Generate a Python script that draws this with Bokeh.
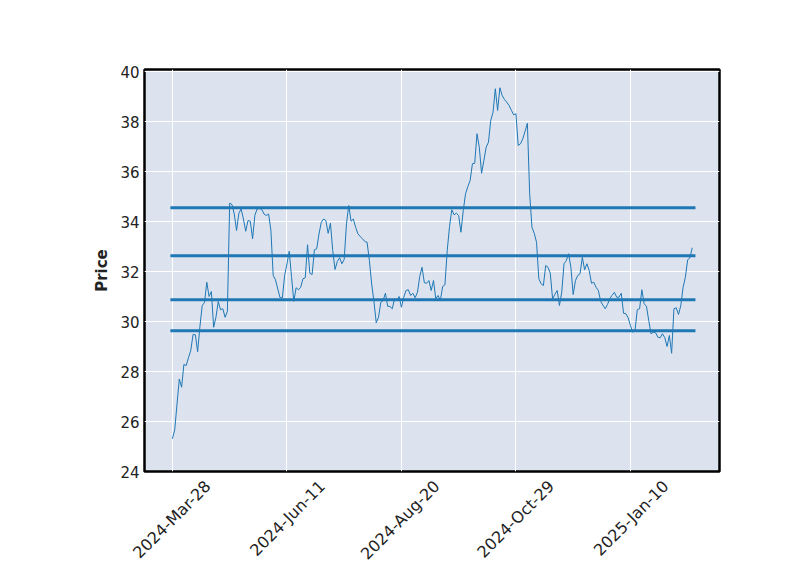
import math
from bokeh.plotting import figure
from bokeh.models import FixedTicker, Range1d
from bokeh.embed import file_html
from bokeh.resources import INLINE

# closing prices, one per trading day, starting 2024-Mar-28
close = [
    25.31, 25.67, 26.70, 27.70, 27.37, 28.28, 28.24, 28.55, 28.84, 29.48,
    29.47, 28.79, 29.80, 30.64, 30.76, 31.57, 31.00, 31.20, 29.77, 30.17,
    30.80, 30.47, 30.51, 30.17, 30.41, 34.73, 34.68, 34.30, 33.64, 34.33,
    34.50, 34.10, 33.61, 34.04, 34.01, 33.31, 34.25, 34.50, 34.52, 34.48,
    34.30, 34.24, 34.30, 33.64, 31.84, 31.67, 31.30, 30.95, 30.95, 31.84,
    32.30, 32.81, 31.80, 30.81, 31.35, 31.27, 31.37, 31.71, 31.75, 33.07,
    31.93, 31.88, 32.87, 32.91, 33.50, 33.97, 34.10, 34.04, 33.53, 33.93,
    32.84, 32.08, 32.40, 32.55, 32.31, 32.48, 33.91, 34.64, 34.01, 34.10,
    33.77, 33.51, 33.40, 33.31, 33.20, 33.17, 32.44, 31.50, 30.80, 29.95,
    30.17, 30.77, 30.84, 31.13, 30.61, 30.60, 30.51, 30.91, 30.84, 31.00,
    30.57, 30.97, 31.24, 31.27, 31.04, 31.13, 30.95, 31.17, 31.80, 32.17,
    31.55, 31.53, 31.64, 31.24, 31.64, 30.91, 31.04, 30.84, 31.40, 31.47,
    32.84, 33.80, 34.47, 34.27, 34.33, 34.24, 33.57, 34.44, 35.11, 35.40,
    35.64, 36.31, 36.33, 37.51, 36.97, 35.93, 36.44, 36.97, 37.17, 38.04,
    38.37, 39.31, 38.44, 39.35, 39.04, 38.88, 38.77, 38.64, 38.45, 38.27,
    38.31, 37.04, 37.11, 37.31, 37.61, 37.93, 35.11, 33.77, 33.53, 33.17,
    31.71, 31.51, 31.44, 32.24, 32.17, 31.93, 30.91, 31.08, 31.24, 30.64,
    31.17, 32.31, 32.44, 32.71, 32.17, 31.08, 31.64, 31.84, 31.91, 32.57,
    32.07, 32.31, 32.04, 31.53, 31.57, 31.37, 31.24, 30.81, 30.65, 30.51,
    30.68, 30.91, 31.05, 31.17, 30.97, 30.97, 31.13, 30.33, 30.31, 30.15,
    29.84, 29.57, 29.64, 30.47, 30.51, 31.27, 30.71, 30.61, 30.04, 29.51,
    29.57, 29.55, 29.37, 29.35, 29.51, 29.35, 29.00, 29.44, 28.73, 30.51,
    30.55, 30.28, 30.64, 31.37, 31.77, 32.47, 32.55, 32.95,
]

# horizontal price levels
levels = [34.55, 32.63, 30.87, 29.63]

# x tick positions (trading-day index) and their labels
tick_index = [0, 50, 100, 150, 200]
tick_labels = ["2024-Mar-28", "2024-Jun-11", "2024-Aug-20", "2024-Oct-29", "2025-Jan-10"]

y_ticks = [24, 26, 28, 30, 32, 34, 36, 38, 40]

idx = list(range(len(close)))

p = figure(
    width=800, height=575,
    output_backend="svg", toolbar_location=None,
    x_range=Range1d(-12.2, 238.9), y_range=Range1d(24, 40.08),
    min_border_left=144, min_border_right=81,
    min_border_top=69, min_border_bottom=104,
)
p.background_fill_color = "#dce3ef"
p.border_fill_color = "white"
p.outline_line_color = "black"
p.outline_line_width = 2.5

p.xgrid.grid_line_color = "white"
p.ygrid.grid_line_color = "white"
p.xgrid.grid_line_width = 1
p.ygrid.grid_line_width = 1
p.xgrid.ticker = FixedTicker(ticks=tick_index)

# rotated labels: Bokeh anchors a rotated label by its upper end, so the
# label ticks are nudged right so that each label is centred under its tick
label_shift = 15.5
shifted = [t + label_shift for t in tick_index]
p.xaxis.ticker = FixedTicker(ticks=shifted)
p.xaxis.major_label_overrides = {s: l for s, l in zip(shifted, tick_labels)}
p.xaxis.major_label_orientation = math.pi / 4
p.xaxis.major_label_standoff = 12
p.xaxis.major_label_text_font = "DejaVu Sans"
p.xaxis.major_label_text_font_size = "16px"
p.xaxis.major_label_text_color = "#222222"

p.yaxis.ticker = FixedTicker(ticks=y_ticks)
p.yaxis.axis_label = "Price"

for ax in (p.xaxis[0], p.yaxis[0]):
    ax.axis_line_color = None
    ax.minor_tick_line_color = None
    ax.major_tick_line_color = None
    ax.major_tick_out = 0
    ax.major_tick_in = 0

p.yaxis.major_label_text_font = "DejaVu Sans"
p.yaxis.major_label_text_font_size = "15px"
p.yaxis.major_label_text_color = "#222222"
p.yaxis.major_label_standoff = 5

p.yaxis.axis_label_text_font = "DejaVu Sans"
p.yaxis.axis_label_text_font_size = "15px"
p.yaxis.axis_label_text_font_style = "bold"
p.yaxis.axis_label_text_color = "#222222"
p.yaxis.axis_label_standoff = 6

p.line(idx, close, line_color="#1f77b4", line_width=1)
for lv in levels:
    p.line([-0.9, len(close) + 0.4], [lv, lv], line_color="#1f77b4", line_width=3)

open("out.html", "w").write(file_html(p, INLINE))
